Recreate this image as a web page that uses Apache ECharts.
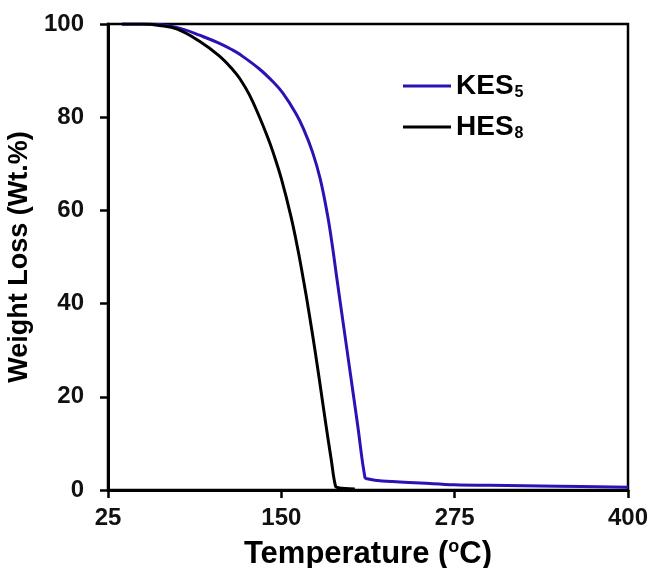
<!DOCTYPE html>
<html>
<head>
<meta charset="utf-8">
<script src="https://cdn.jsdelivr.net/npm/echarts@6/dist/echarts.min.js"></script>
<style>
  html, body { margin: 0; padding: 0; background: #fff; }
  #chart { width: 653px; height: 568px; }
</style>
</head>
<body>
<div id="chart"></div>
<script>
// Thermogravimetric curves: residual weight (%) against temperature (°C)
const kesTemp = [35, 50, 65, 80, 91, 105, 115, 120, 134, 144, 151, 160.5, 166, 172.5, 178, 183.3, 187, 190, 195, 200, 205, 210.3, 212, 217.5, 230, 250, 275, 300, 350, 400];
const kesWeight = [100, 100, 99.8, 98.8, 97.6, 95.9, 94.4, 93.5, 90.4, 87.6, 85.2, 80.8, 77.5, 72.5, 66.8, 59, 52, 45.5, 35, 24.5, 14, 2.7, 2.4, 2.1, 1.8, 1.5, 1.1, 1.0, 0.8, 0.6];

const hesTemp = [35, 50, 62, 75, 91, 105, 115, 120, 127, 134, 140, 144, 150, 157, 162, 166, 170, 174, 178, 182, 186, 189.2, 191, 196, 203];
const hesWeight = [100, 100, 99.7, 98.9, 96.3, 93.2, 90.2, 88.3, 84.8, 80.2, 75.8, 72.5, 66.8, 58.6, 51.5, 45, 38, 30.5, 22.5, 14.3, 6.5, 0.7, 0.5, 0.3, 0.2];

const xTicks = [25, 150, 275, 400];
const yTicks = [0, 20, 40, 60, 80, 100];

const seriesNames = ['KES5', 'HES8'];
const seriesLabels = { KES5: ['KES', '5'], HES8: ['HES', '8'] };

const zip = (xs, ys) => xs.map((x, i) => [x, ys[i]]);

const FONT = "'Liberation Sans', Arial, sans-serif";

const chart = echarts.init(document.getElementById('chart'), null, { renderer: 'canvas' });

chart.setOption({
  backgroundColor: '#ffffff',
  animation: false,
  grid: {
    left: 108, right: 25, top: 24, bottom: 78,
    containLabel: false,
    outerBoundsMode: 'none',
    show: true,
    borderColor: '#000',
    borderWidth: 2.5,
    backgroundColor: 'transparent'
  },
  legend: {
    data: seriesNames,
    orient: 'vertical',
    left: 398,
    top: 67,
    itemWidth: 48,
    itemHeight: 3,
    itemGap: 12,
    icon: 'rect',
    formatter: name => '{a|' + seriesLabels[name][0] + '}{s|' + seriesLabels[name][1] + '}',
    textStyle: {
      rich: {
        a: { fontFamily: FONT, fontSize: 28, fontWeight: 'bold', color: '#000', lineHeight: 30 },
        s: { fontFamily: FONT, fontSize: 16, fontWeight: 'bold', color: '#000', verticalAlign: 'bottom', lineHeight: 30, padding: [12, 0, 0, 1] }
      }
    }
  },
  xAxis: {
    type: 'value',
    min: xTicks[0],
    max: xTicks[xTicks.length - 1],
    interval: xTicks[1] - xTicks[0],
    name: '{t|Temperature (}{u|o}{t|C)}',
    nameLocation: 'middle',
    nameGap: 48,
    nameTextStyle: {
      rich: {
        t: { fontFamily: FONT, fontSize: 31, fontWeight: 'bold', color: '#000', lineHeight: 32 },
        u: { fontFamily: FONT, fontSize: 18, fontWeight: 'bold', color: '#000', verticalAlign: 'top', lineHeight: 32, padding: [0, 0, 10, 0] }
      }
    },
    axisLine: { show: true, onZero: false, lineStyle: { color: '#000', width: 3 } },
    axisTick: { show: true, inside: false, length: 8, lineStyle: { color: '#000', width: 2.5 } },
    axisLabel: { fontFamily: FONT, fontSize: 24, fontWeight: 'bold', color: '#111', margin: 16 },
    splitLine: { show: false }
  },
  yAxis: {
    type: 'value',
    min: yTicks[0],
    max: yTicks[yTicks.length - 1],
    interval: yTicks[1] - yTicks[0],
    name: 'Weight Loss (Wt.%)',
    nameLocation: 'middle',
    nameGap: 58,
    nameTextStyle: { fontFamily: FONT, fontSize: 27, fontWeight: 'bold', color: '#000' },
    axisLine: { show: true, onZero: false, lineStyle: { color: '#000', width: 3 } },
    axisTick: { show: true, inside: false, length: 8, lineStyle: { color: '#000', width: 2.5 } },
    axisLabel: { fontFamily: FONT, fontSize: 24, fontWeight: 'bold', color: '#111', margin: 24 },
    splitLine: { show: false }
  },
  series: [
    {
      name: 'KES5',
      type: 'line',
      data: zip(kesTemp, kesWeight),
      symbol: 'none',
      smooth: 0.4,
      lineStyle: { color: '#2b12b5', width: 3 },
      itemStyle: { color: '#2b12b5' },
      z: 3
    },
    {
      name: 'HES8',
      type: 'line',
      data: zip(hesTemp, hesWeight),
      symbol: 'none',
      smooth: 0.4,
      lineStyle: { color: '#000', width: 3 },
      itemStyle: { color: '#000' },
      z: 4
    }
  ]
});
</script>
</body>
</html>
